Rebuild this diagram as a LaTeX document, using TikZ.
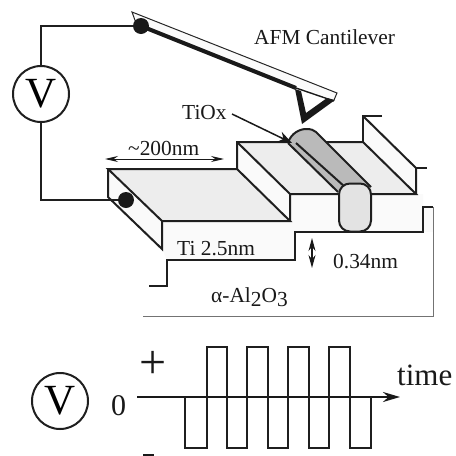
\documentclass[tikz,border=0pt]{standalone}
\usepackage{fontspec}
\setmainfont{Liberation Serif}
\usetikzlibrary{arrows.meta}
\tikzset{
 thick line/.style={line width=2pt,line join=miter,color=black!88},
 thin line/.style={line width=1pt,color=black!85},
 grey line/.style={line width=0.9pt,color=black!55},
 meter/.style={circle,draw=black!88,line width=2pt,minimum size=56pt,inner sep=0pt,font=\fontsize{43}{43}\selectfont},
 lbl/.style={inner sep=0pt,anchor=base west,font=\fontsize{21.4}{21.4}\selectfont,color=black!90},
 ball/.style={circle,fill=black!90,minimum size=16pt,inner sep=0pt},
}
\begin{document}
\begin{tikzpicture}[x=1pt,y=-1pt]
\useasboundingbox (0,0) rectangle (456,456);
% front body fill
\fill[black!2] (162,221) -- (290,221) -- (290,194) -- (416,194) -- (423,194) -- (423,232) -- (295,232) -- (295,260) -- (167,260) -- (162,249) -- cycle;
\fill[black!2] (423,207) -- (433,207) -- (433,232) -- (423,232) -- cycle;
% terrace tops
\fill[black!7] (108,169) -- (237,169) -- (290,221) -- (162,221) -- cycle;
\fill[black!7] (237,142) -- (363,142) -- (416,194) -- (290,194) -- cycle;
% walls
\fill[black!2] (108,169) -- (162,221) -- (162,249) -- (108,197) -- cycle;
\fill[black!2] (237,142) -- (290,194) -- (290,221) -- (237,169) -- cycle;
\fill[black!2] (363,116) -- (416,168) -- (416,194) -- (363,142) -- cycle;
% outlines
\draw[thick line] (108,169) -- (237,169) -- (290,221) -- (162,221) -- cycle;
\draw[thick line] (237,169) -- (237,142) -- (363,142) -- (416,194) -- (290,194) -- (290,221);
\draw[thick line] (237,142) -- (290,194);
\draw[thick line] (108,169) -- (108,197) -- (162,249) -- (162,221);
\draw[thick line] (382,116) -- (363,116) -- (363,142);
\draw[thick line] (363,116) -- (416,168) -- (416,194);
\draw[thick line] (416,168) -- (427,168);
\draw[thick line] (149,286) -- (167,286) -- (167,260) -- (295,260) -- (295,232) -- (423,232) -- (423,207) -- (433,207);
\draw[grey line] (433,207) -- (433,316) -- (143,316);
% TiOx line
\fill[black!27] (288,143) .. controls (291,133) and (300,129) .. (306,129) .. controls (311,129) and (314,130) .. (316,132) -- (371,187) -- (345,187) -- (338,192) -- cycle;
\draw[thick line] (288,143) .. controls (291,133) and (300,129) .. (306,129) .. controls (311,129) and (314,130) .. (316,132) -- (371,187);
\draw[thick line] (288,143) -- (338,192);
\draw[thick line] (296,143) -- (345,187);
\node[draw=black!88,line width=2pt,fill=black!11,rounded corners=11pt,minimum width=32pt,minimum height=48pt,inner sep=0pt] (roll) at (355,207.5) {};
% cantilever
\coordinate (contact) at (141,26);
\fill[black!2] (132,12) -- (337,93) -- (334,100) -- (141,26) -- cycle;
\draw[thin line] (136,23) -- (132,12) -- (337,93) -- (334,100);
\fill[black!90] (295,89) -- (302,124) -- (335,100) -- (327,98) -- (306,113) -- (301,91) -- cycle;
\draw[line width=4pt,color=black!90] (141,26) -- (296,88);
\draw[line width=1.4pt,color=black!90] (296,88) -- (334,101);
\node[ball] (tipball) at (contact) {};
% meter and wires
\node[meter] (vm) at (41,94) {V};
\node[ball] (sball) at (126,200) {};
\draw[thick line] (vm.north) |- (tipball.west);
\draw[thick line] (vm.south) |- (sball.west);
% labels
\node[lbl] (afm) at (254,44) {AFM Cantilever};
\node[lbl] (tiox) at (182,119) {TiOx};
\coordinate (tioxs) at (232,114);
\coordinate (tioxe) at (292,143);
\draw[line width=1.5pt,color=black!90,-{Stealth[length=14pt,width=11pt]}] (tioxs) -- (tioxe);
\node[lbl] (w) at (128,155) {\textasciitilde200nm};
\coordinate (wa) at (105,159);
\coordinate (wb) at (224,159);
\draw[line width=1pt,color=black!90,{Stealth[length=13pt,width=6pt]}-{Stealth[length=13pt,width=6pt]}] (wa) -- (wb);
\node[lbl] (ti) at (177,255) {Ti 2.5nm};
\node[lbl] (al) at (211,302) {α-Al\raisebox{-4pt}{2}O\raisebox{-4pt}{3}};
\coordinate (ha) at (312,238);
\coordinate (hb) at (312,268);
\draw[line width=1.2pt,color=black!90,{Stealth[length=13pt,width=7pt]}-{Stealth[length=13pt,width=7pt]}] (ha) -- (hb);
\node[lbl] (h) at (333,268) {0.34nm};
% waveform
\node[meter] (v2) at (60,401) {V};
\node[lbl,font=\fontsize{30}{30}\selectfont] (zero) at (111,415) {0};
\node[inner sep=0pt,font=\fontsize{48}{48}\selectfont,color=black!90] (plus) at (153,365) {+};
\coordinate (ax0) at (137,397);
\coordinate (ax1) at (400,397);
\draw[line width=2.2pt,color=black!90,-{Stealth[length=17pt,width=10pt]}] (ax0) -- (ax1);
\node[lbl,font=\fontsize{31}{31}\selectfont] (time) at (397,385) {time};
\draw[line width=1.5pt,color=black!88] (185,397) -- (185,448) -- (207,448) -- (207,347) -- (227,347) -- (227,448) -- (247,448) -- (247,347) -- (268,347) -- (268,448) -- (288,448) -- (288,347) -- (309,347) -- (309,448) -- (329,448) -- (329,347) -- (350,347) -- (350,448) -- (371,448) -- (371,397);
\fill[black!90] (143,454) rectangle (154,456);
\end{tikzpicture}
\end{document}
